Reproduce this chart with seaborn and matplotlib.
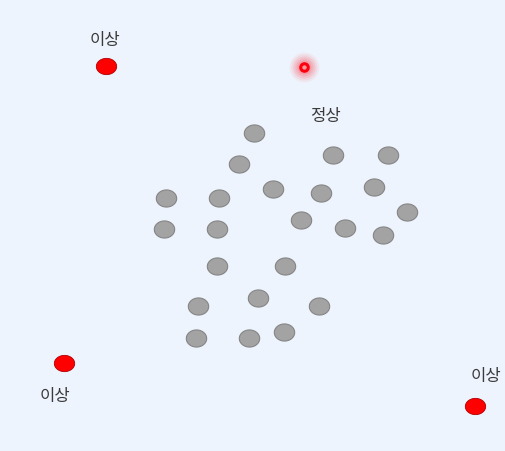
import matplotlib
matplotlib.use("Agg")
import matplotlib.pyplot as plt
import seaborn as sns
import numpy as np
import pandas as pd
from matplotlib.path import Path

sns.set_theme(style="white")
plt.rcParams['font.family'] = ['Noto Sans CJK KR', 'DejaVu Sans']

# normal points (x, y in image-like coordinates)
normal_x = [254, 239, 333, 388, 166, 219, 273, 321, 374, 407, 164, 217, 301, 345, 383,
            217, 285, 198, 258, 319, 196, 249, 284]
normal_y = [133, 164, 155, 155, 198, 198, 189, 193, 187, 212, 229, 229, 220, 228, 235,
            266, 266, 306, 298, 306, 338, 338, 332]

anomaly_x = [106, 64, 475]
anomaly_y = [66, 363, 406]
anomaly_labels = ["이상", "이상", "이상"]
label_x = [105, 55, 486]
label_y = [40, 396, 377]

highlight_x = [304.5]
highlight_y = [67]

normal_label = "정상"
normal_label_pos = (325, 117)

bg = "#eef4fd"

def ellipse(ry):
    t = np.linspace(0, 2 * np.pi, 60)
    verts = np.column_stack([np.cos(t), ry * np.sin(t)])
    return Path(verts, closed=True)

fig = plt.figure(figsize=(5.06, 4.51), dpi=100)
fig.patch.set_facecolor(bg)
ax = fig.add_axes([0, 0, 1, 1])
ax.set_facecolor(bg)

df_n = pd.DataFrame({"x": normal_x, "y": normal_y})
df_a = pd.DataFrame({"x": anomaly_x, "y": anomaly_y})
df_h = pd.DataFrame({"x": highlight_x, "y": highlight_y})

sns.scatterplot(data=df_n, x="x", y="y", ax=ax, marker=ellipse(0.84), s=215,
                color="#a3a3a3", edgecolor="#858585", linewidth=0.8, zorder=3)
sns.scatterplot(data=df_a, x="x", y="y", ax=ax, marker=ellipse(0.8), s=215,
                color="#ff0000", edgecolor="#b00000", linewidth=0.6, zorder=3)

# glow
for sz, a in [(30, 0.06), (26, 0.08), (22, 0.10), (18, 0.12), (14, 0.15)]:
    sns.scatterplot(data=df_h, x="x", y="y", ax=ax, marker="o", s=(sz * 0.72) ** 2,
                    color="#ff2a3a", alpha=a, linewidth=0, zorder=2)
sns.scatterplot(data=df_h, x="x", y="y", ax=ax, marker="o", s=(7.5 * 0.72) ** 2,
                color="#ff9a9a", edgecolor="#ff0010", linewidth=2.2, zorder=4)

for lx, ly, lab in zip(label_x, label_y, anomaly_labels):
    ax.text(lx, ly, lab, ha="center", va="center", fontsize=12, color="#3a3a3a")
ax.text(normal_label_pos[0], normal_label_pos[1], normal_label, ha="center",
        va="center", fontsize=12, color="#3a3a3a")

ax.set_xlim(0, 506)
ax.set_ylim(451, 0)
ax.axis("off")
if ax.get_legend():
    ax.get_legend().remove()

fig.savefig("out.png", dpi=100, facecolor=bg)
